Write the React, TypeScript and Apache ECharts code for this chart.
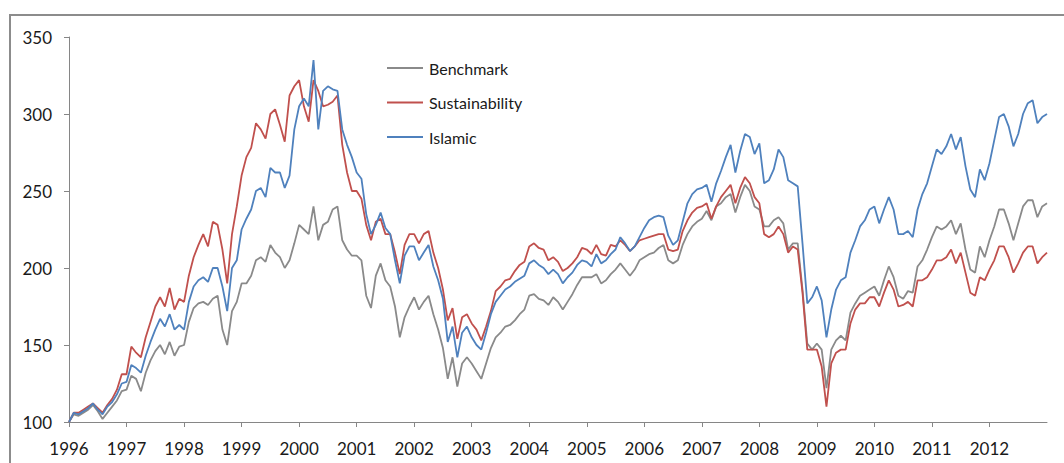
import React, { useEffect, useRef } from "react";
import * as echarts from "echarts";

const seriesNames = ["Benchmark", "Sustainability", "Islamic"];
const seriesColors = ["#8a8a8a", "#c0504d", "#4f81bd"];
const startYear = 1996;
const yearTicks = [1996, 1997, 1998, 1999, 2000, 2001, 2002, 2003, 2004, 2005, 2006, 2007, 2008, 2009, 2010, 2011, 2012];

// Month-start values, Jan 1996 .. end of Dec 2012 (205 points)
const benchmark = [
  100, 105, 104, 106, 108, 111, 107, 102, 106, 110, 114, 120, 121,
  130, 128, 120, 132, 140, 146, 150, 144, 152, 143, 149, 150,
  165, 174, 177, 178, 176, 180, 182, 160, 150, 172, 178, 190,
  190, 195, 205, 207, 204, 215, 210, 207, 200, 205, 216, 228,
  225, 222, 240, 218, 228, 230, 238, 240, 218, 212, 208, 208,
  205, 182, 174, 195, 203, 192, 188, 175, 155, 168, 175, 181,
  173, 178, 182, 170, 160, 148, 128, 142, 123, 138, 142, 138,
  133, 128, 138, 148, 155, 158, 162, 163, 166, 170, 173, 182,
  183, 180, 179, 176, 181, 178, 173, 178, 183, 189, 194, 194,
  194, 196, 190, 192, 196, 199, 203, 199, 195, 199, 205, 207,
  209, 210, 213, 215, 205, 203, 205, 215, 222, 227, 230, 232,
  237, 231, 240, 242, 246, 248, 236, 246, 254, 250, 240, 238,
  227, 227, 231, 233, 229, 212, 216, 216, 186, 151, 147, 151,
  147, 122, 147, 153, 156, 153, 171, 177, 182, 184, 186, 188,
  182, 192, 201, 194, 182, 180, 185, 184, 201, 205, 212, 220,
  227, 225, 227, 231, 222, 229, 212, 199, 197, 214, 207, 218,
  227, 238, 238, 229, 218, 229, 240, 244, 244, 233, 240, 242,
];

const sustainability = [
  100, 106, 106, 108, 110, 112, 109, 106, 111, 115, 121, 131, 131,
  149, 145, 142, 155, 165, 175, 181, 175, 187, 173, 180, 178,
  195, 207, 215, 222, 214, 230, 228, 212, 190, 222, 240, 260,
  272, 278, 294, 290, 284, 300, 303, 293, 282, 312, 318, 322,
  305, 295, 322, 315, 305, 306, 308, 312, 280, 262, 250, 250,
  245, 228, 218, 230, 232, 222, 222, 210, 196, 215, 222, 222,
  216, 222, 224, 210, 200, 186, 166, 174, 154, 168, 170, 164,
  160, 153, 162, 172, 185, 188, 192, 193, 198, 202, 204, 214,
  216, 213, 212, 205, 207, 204, 198, 200, 203, 207, 213, 212,
  209, 215, 209, 208, 215, 214, 218, 215, 211, 214, 218, 219,
  220, 221, 222, 222, 212, 211, 212, 224, 231, 236, 239, 240,
  242, 232, 240, 246, 250, 254, 242, 252, 259, 255, 246, 242,
  222, 220, 222, 227, 222, 210, 214, 212, 184, 147, 147, 147,
  136, 110, 138, 145, 147, 147, 164, 173, 177, 177, 181, 181,
  175, 184, 192, 186, 175, 176, 178, 175, 192, 192, 194, 199,
  205, 205, 207, 212, 203, 210, 197, 184, 182, 194, 192, 199,
  205, 214, 214, 207, 197, 203, 210, 214, 214, 203, 207, 210,
];

const islamic = [
  100, 106, 105, 107, 109, 112, 108, 105, 110, 113, 118, 125, 126,
  137, 135, 132, 143, 152, 160, 167, 162, 170, 160, 163, 160,
  178, 188, 192, 194, 191, 200, 200, 188, 172, 200, 205, 225,
  232, 238, 250, 252, 246, 265, 262, 262, 252, 260, 290, 305,
  310, 305, 335, 290, 315, 318, 316, 315, 290, 280, 272, 262,
  258, 235, 222, 228, 236, 226, 222, 205, 190, 208, 214, 214,
  205, 210, 215, 201, 192, 180, 152, 162, 142, 158, 162, 155,
  150, 147, 158, 170, 178, 182, 186, 188, 191, 193, 195, 203,
  205, 202, 200, 196, 199, 196, 190, 194, 197, 202, 205, 204,
  201, 209, 203, 205, 209, 212, 220, 216, 211, 214, 220, 226,
  231, 233, 234, 233, 221, 215, 218, 230, 242, 248, 251, 252,
  254, 243, 255, 263, 272, 280, 262, 276, 287, 285, 274, 281,
  255, 257, 264, 277, 272, 257, 255, 253, 216, 177, 181, 188,
  179, 155, 173, 186, 192, 194, 210, 218, 227, 231, 238, 240,
  229, 238, 246, 238, 222, 222, 224, 220, 238, 248, 255, 266,
  277, 274, 279, 287, 277, 285, 266, 251, 246, 264, 257, 268,
  283, 298, 300, 292, 279, 287, 300, 307, 309, 294, 298, 300,
];

const allValues = [benchmark, sustainability, islamic];

const FONT = "Lato, 'Open Sans', sans-serif";

export default function App() {
  const ref = useRef<HTMLDivElement | null>(null);

  useEffect(() => {
    if (!ref.current) return;
    const chart = echarts.init(ref.current, undefined, { renderer: "svg" });
    const option: any = {
      animation: false,
      backgroundColor: "#ffffff",
      textStyle: { fontFamily: FONT },
      grid: { left: 69, right: 17, top: 37, bottom: 41, containLabel: false },
      legend: {
        data: seriesNames,
        orient: "vertical",
        left: 387,
        top: 60,
        padding: 0,
        icon: "rect",
        itemWidth: 36,
        itemHeight: 2,
        itemGap: 18.5,
        textStyle: { fontSize: 16, color: "#1a1a1a", fontFamily: FONT, padding: [0, 0, 0, 1] },
      },
      graphic: [
        {
          type: "rect",
          silent: true,
          z: -1,
          shape: { x: 10, y: 15, width: 1100, height: 500 },
          style: { fill: "none", stroke: "#8c8c8c", lineWidth: 2 },
        },
      ],
      xAxis: {
        type: "value",
        min: 1996,
        max: 2013,
        interval: 1,
        axisLine: { show: true, lineStyle: { color: "#868686", width: 1 } },
        axisTick: { show: true, length: 5, customValues: yearTicks, lineStyle: { color: "#868686" } },
        axisLabel: {
          customValues: yearTicks,
          margin: 18,
          fontSize: 17,
          color: "#1a1a1a",
          fontFamily: FONT,
          formatter: (v: number) => (v >= 2013 ? "" : String(v)),
        },
        splitLine: { show: false },
      },
      yAxis: {
        type: "value",
        min: 100,
        max: 350,
        interval: 50,
        axisLine: { show: true, lineStyle: { color: "#868686", width: 1 } },
        axisTick: { show: true, length: 5, lineStyle: { color: "#868686" } },
        axisLabel: { margin: 17, fontSize: 17, color: "#1a1a1a", fontFamily: FONT },
        splitLine: { show: false },
      },
      series: seriesNames.map((name, k) => ({
        name,
        type: "line",
        symbol: "none",
        showSymbol: false,
        color: seriesColors[k],
        itemStyle: { color: seriesColors[k] },
        lineStyle: { color: seriesColors[k], width: 1.8 },
        data: allValues[k].map((v, i) => [startYear + i / 12, v]),
      })),
    };
    chart.setOption(option);
    return () => chart.dispose();
  }, []);

  return (
    <div
      ref={ref}
      style={{ position: "fixed", left: 0, top: 0, width: 1064, height: 463, background: "#fff" }}
    />
  );
}
